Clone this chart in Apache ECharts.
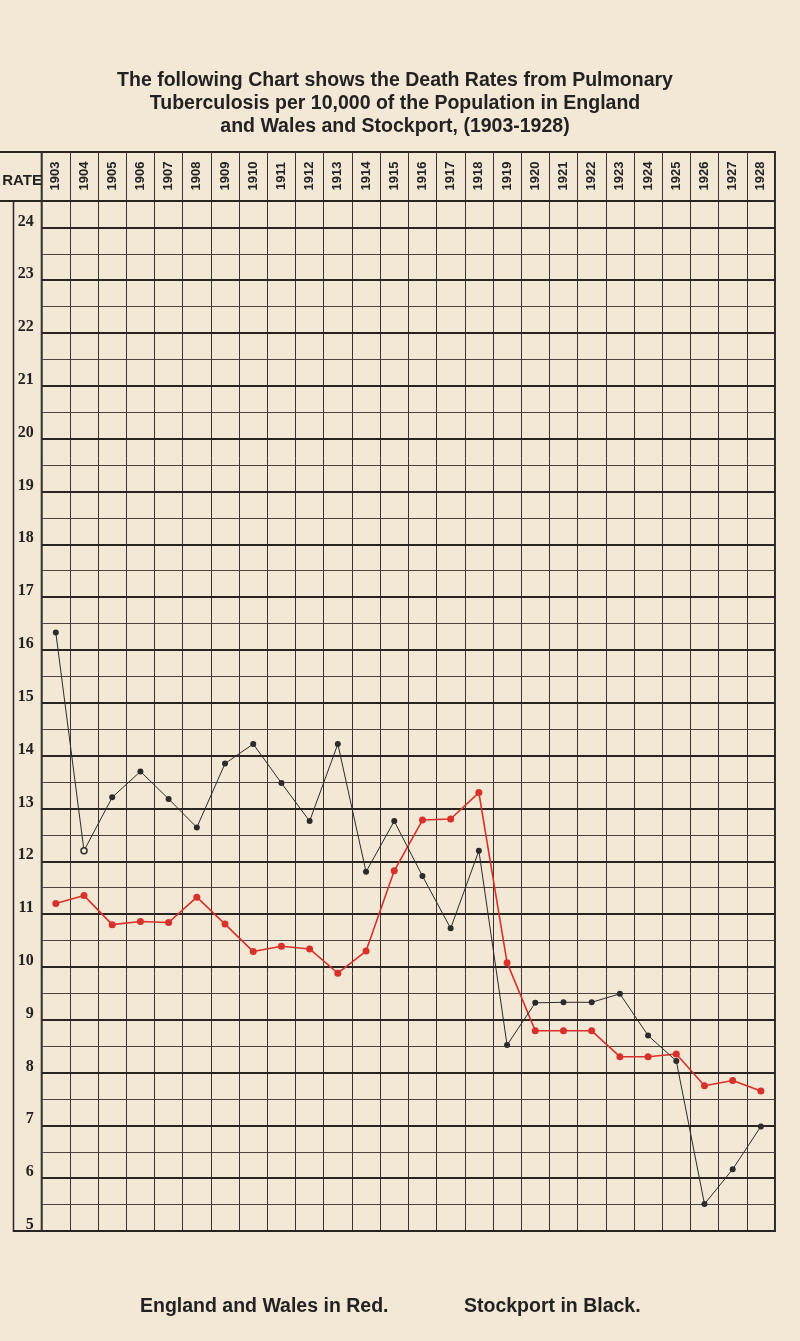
<!DOCTYPE html>
<html><head><meta charset="utf-8">
<script src="https://cdn.jsdelivr.net/npm/echarts@6/dist/echarts.min.js"></script>
<style>html,body{margin:0;padding:0;background:#f3e7d5}#c{width:800px;height:1341px}</style>
</head><body><div id="c"></div>
<script>
const years = ['1903','1904','1905','1906','1907','1908','1909','1910','1911','1912','1913','1914','1915','1916','1917','1918','1919','1920','1921','1922','1923','1924','1925','1926','1927','1928'];
const englandWales = [11.2,11.35,10.8,10.86,10.84,11.32,10.81,10.29,10.39,10.34,9.88,10.3,11.82,12.78,12.8,13.3,10.08,8.79,8.79,8.79,8.3,8.3,8.35,7.75,7.85,7.65];
const stockport = [16.33,12.2,13.21,13.7,13.18,12.64,13.85,14.22,13.48,12.76,14.22,11.8,12.76,11.72,10.73,12.2,8.52,9.32,9.33,9.33,9.49,8.7,8.22,5.51,6.17,6.98];
const hollowYears = ['1904'];
const rateMin = 5, rateMax = 24.5;

const BG = '#f3e7d5', INK = '#2a2522', RED = '#d9302a';
const chart = echarts.init(document.getElementById('c'));
chart.setOption({
  backgroundColor: BG,
  animation: false,
  title: [
    {text: 'The following Chart shows the Death Rates from Pulmonary\nTuberculosis per 10,000 of the Population in England\nand Wales and Stockport, (1903-1928)',
     left: 390, top: 64, textAlign: 'center',
     textStyle: {fontFamily: 'Liberation Sans', fontWeight: 'bold', fontSize: 19.5, lineHeight: 23, color: '#222'}},
    {text: 'England and Wales in Red.', left: 135, top: 1292,
     textStyle: {fontFamily: 'Liberation Sans', fontWeight: 'bold', fontSize: 19.5, color: '#222'}},
    {text: 'Stockport in Black.', left: 459, top: 1292,
     textStyle: {fontFamily: 'Liberation Sans', fontWeight: 'bold', fontSize: 19.5, color: '#222'}},
    {text: 'RATE', left: 37, top: 168, textAlign: 'right',
     textStyle: {fontFamily: 'Liberation Sans', fontWeight: 'bold', fontSize: 15, color: '#222'}}
  ],
  grid: [
    {left: 41.7, right: 25, top: 152, height: 49, show: true, borderColor: INK, borderWidth: 2},
    {left: 41.7, right: 25, top: 201, bottom: 110, show: true, borderColor: INK, borderWidth: 2}
  ],
  xAxis: [
    {gridIndex: 0, type: 'category', data: years, boundaryGap: true,
     axisLine: {show: false}, axisTick: {show: false}, axisLabel: {show: false},
     splitLine: {show: true, interval: 0, lineStyle: {color: '#3a3330', width: 1}}},
    {gridIndex: 1, type: 'category', data: years, boundaryGap: true, position: 'top',
     axisLine: {show: false}, axisTick: {show: false},
     axisLabel: {interval: 0, rotate: -90, margin: 25, align: 'center', verticalAlign: 'middle',
       fontFamily: 'Liberation Sans', fontWeight: 'bold', fontSize: 13, color: '#222'},
     splitLine: {show: true, interval: 0, lineStyle: {color: '#3a3330', width: 1}}}
  ],
  yAxis: [
    {gridIndex: 0, type: 'value', min: 0, max: 1, show: false},
    {gridIndex: 1, type: 'value', min: rateMin, max: rateMax, interval: 1,
     axisLine: {show: false}, axisTick: {show: false},
     axisLabel: {margin: 8, align: 'right', verticalAlign: 'bottom', lineHeight: 12,
       fontFamily: 'Liberation Serif', fontWeight: 'bold', fontSize: 16, color: '#222',
       formatter: v => Number.isInteger(v) ? String(v) : ''},
     splitLine: {show: true, lineStyle: {color: INK, width: 2.2}}, z: 3},
    {gridIndex: 1, type: 'value', min: rateMin, max: rateMax, interval: 0.5,
     axisLine: {show: false}, axisTick: {show: false}, axisLabel: {show: false},
     splitLine: {show: true, lineStyle: {color: '#4a4340', width: 1}}, z: 2}
  ],
  graphic: [
    {type: 'line', shape: {x1: 0, y1: 152, x2: 42, y2: 152}, style: {stroke: INK, lineWidth: 2}},
    {type: 'line', shape: {x1: 0, y1: 201, x2: 42, y2: 201}, style: {stroke: INK, lineWidth: 2}},
    {type: 'line', shape: {x1: 13.5, y1: 201, x2: 13.5, y2: 1232}, style: {stroke: INK, lineWidth: 1.5}},
    {type: 'line', shape: {x1: 13.5, y1: 1231, x2: 42, y2: 1231}, style: {stroke: INK, lineWidth: 2}}
  ],
  series: [
    {name: 'England and Wales', type: 'line', xAxisIndex: 1, yAxisIndex: 1, data: englandWales,
     symbol: 'circle', symbolSize: 7, z: 5,
     lineStyle: {color: RED, width: 1.6}, itemStyle: {color: RED}},
    {name: 'Stockport', type: 'line', xAxisIndex: 1, yAxisIndex: 1,
     data: stockport.map((v, i) => hollowYears.includes(years[i])
        ? {value: v, itemStyle: {color: BG, borderColor: '#2b2b2b', borderWidth: 1.5}} : v),
     symbol: 'circle', symbolSize: 6, z: 6,
     lineStyle: {color: '#2b2b2b', width: 1}, itemStyle: {color: '#2b2b2b'}}
  ]
});
</script></body></html>
